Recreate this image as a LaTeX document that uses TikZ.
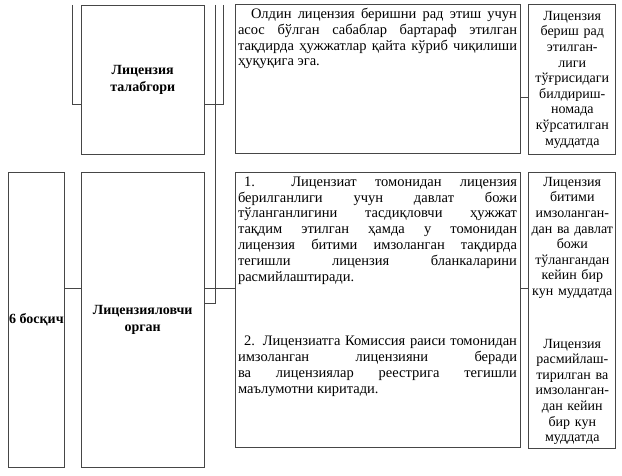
\documentclass[tikz,border=0pt]{standalone}
\usepackage{fontspec}
\setmainfont{Liberation Serif}
\usetikzlibrary{positioning}
\definecolor{rule}{RGB}{70,70,70}
\tolerance=10000
\hbadness=10000

\begin{document}
\begin{tikzpicture}[x=1pt, y=-1pt, node distance=16pt and 16pt, every node/.style={inner sep=0pt,font=\fontsize{14}{15.6}\selectfont}, head/.style={draw=rule,line width=0.8pt,align=center,font=\fontsize{14}{17}\selectfont\bfseries}, note/.style={draw=rule,line width=0.8pt,text width=279pt,inner xsep=3pt,inner ysep=4pt,text height=10pt,align=justify,font=\fontsize{14.5}{15.8}\selectfont}, term/.style={draw=rule,line width=0.8pt,text width=85pt,inner xsep=1pt,inner ysep=4pt,align=center}, wire/.style={draw=rule,line width=0.8pt}]
  \useasboundingbox (0,0) rectangle (622,476);
  \node[head,minimum width=56pt,minimum height=295pt,anchor=north west] (stage) at (8,172) {6 босқич};
  \node[head,minimum width=123pt,minimum height=295pt,right=16pt of stage] (organ) {Лицензияловчи\\орган};
  \node[head,minimum width=123pt,minimum height=149pt,above=17pt of organ] (applicant) {Лицензия\\талабгори};
  \node[note,minimum height=275pt,text depth=257pt,right=30pt of organ.north east,anchor=north west] (steps)
    {\hspace*{6pt}1.\ \ Лицензиат томонидан лицензия\linebreak берилганлиги учун давлат божи\linebreak тўланганлигини тасдиқловчи ҳужжат\linebreak тақдим этилган ҳамда у томонидан\linebreak лицензия битими имзоланган тақдирда\linebreak тегишли лицензия бланкаларини\linebreak расмийлаштиради.\par\vspace{49pt}
     \hspace*{6pt}2. Лицензиатга Комиссия раиси томонидан\linebreak имзоланган лицензияни беради\linebreak ва лицензиялар реестрига тегишли\linebreak маълумотни киритади.};
  \node[note,minimum height=149pt,text depth=131pt,above=18pt of steps] (review)
    {\hspace*{13pt}Олдин лицензия беришни рад этиш учун\linebreak асос бўлган сабаблар бартараф этилган\linebreak тақдирда ҳужжатлар қайта кўриб чиқилиши\linebreak ҳуқуқига эга.};
  \node[term,minimum height=276pt,text height=10pt,text depth=258pt,right=8pt of steps.north east,anchor=north west] (dates)
    {Лицензия\\битими\\имзоланган-\\дан ва давлат\\божи\\тўлангандан\\кейин бир\\кун муддатда\\[37pt]Лицензия\\расмийлаш-\\тирилган ва\\имзоланган-\\дан кейин\\бир кун\\муддатда};
  \node[term,minimum height=150pt,above=17pt of dates] (deadline)
    {Лицензия\\бериш рад\\этилган-\\лиги\\тўғрисидаги\\билдириш-\\номада\\кўрсатилган\\муддатда};
  % lines coming in from the previous stage
  \coordinate (wireA) at (72,5);
  \coordinate (wireB) at (215,5);
  \coordinate (wireC) at (223,5);
  \draw[wire] (wireA) |- (applicant.west |- 0,104);
  \draw[wire] (wireC) |- (applicant.east |- 0,104);
  \draw[wire] (wireB) |- (organ.east |- 0,303);
  \draw[wire] (stage.east |- 0,288) -- (organ.west |- 0,288);
  \draw[wire] (organ.east |- 0,288) -- (steps.west |- 0,288);
  \draw[wire] (steps.east |- 0,288) -- (dates.west |- 0,288);
  \draw[wire] (review.east |- 0,97) -- (deadline.west |- 0,97);
\end{tikzpicture}
\end{document}
